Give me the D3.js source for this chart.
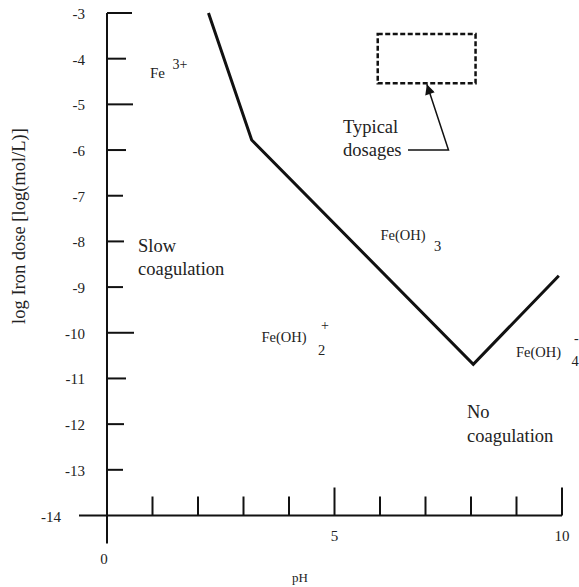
<!DOCTYPE html>
<html>
<head>
<meta charset="utf-8">
<script src="https://cdn.jsdelivr.net/npm/d3@7"></script>
<style>
  body { margin: 0; background: #fff; }
  text { font-family: "Liberation Serif", "Times New Roman", serif; fill: #222; }
</style>
</head>
<body>
<div id="chart"></div>
<script>
// data
var yTicks = [-3, -4, -5, -6, -7, -8, -9, -10, -11, -12, -13, -14];
var xTicks = [1, 2, 3, 4, 5, 6, 7, 8, 9, 10];
var xLabels = [0, 5, 10];
var boundaryPH = [2.23, 3.18, 8.05, 9.93];
var boundaryLog = [-3, -5.78, -10.69, -8.75];
var dosagePH = [5.95, 8.1];
var dosageLog = [-3.46, -4.54];

// hand drawn look: y tick lengths differ a bit
var yTickLen = [25, 19, 26, 19, 16, 17, 16, 27, 19, 17, 16];

function init() {
    var w = 579;
    var h = 587;

    var x = d3.scaleLinear().domain([0, 10]).range([107, 562]);
    var y = d3.scaleLinear().domain([-14, -3]).range([515.5, 13]);

    var svg = d3.select("#chart")
        .append("svg")
        .attr("width", w)
        .attr("height", h);

    var ink = "#111";

    // axes lines
    svg.append("line")
        .attr("x1", x(0)).attr("x2", x(0))
        .attr("y1", y(-3)).attr("y2", y(-14) + 28)
        .attr("stroke", ink).attr("stroke-width", 2);
    svg.append("line")
        .attr("x1", x(0) - 28).attr("x2", x(10))
        .attr("y1", y(-14)).attr("y2", y(-14))
        .attr("stroke", ink).attr("stroke-width", 2);

    // y ticks
    svg.selectAll(".ytick")
        .data(yTicks.slice(0, 11))
        .enter()
        .append("line")
        .attr("x1", x(0))
        .attr("x2", function (d, i) { return x(0) + yTickLen[i]; })
        .attr("y1", function (d) { return y(d); })
        .attr("y2", function (d) { return y(d); })
        .attr("stroke", ink).attr("stroke-width", 2);

    svg.selectAll(".ylab")
        .data(yTicks)
        .enter()
        .append("text")
        .text(function (d) { return d; })
        .attr("x", function (d) { return d == -14 ? x(0) - 46 : x(0) - 22; })
        .attr("y", function (d) { return y(d) + 6; })
        .attr("text-anchor", "end")
        .attr("font-size", "15px");

    // x ticks
    svg.selectAll(".xtick")
        .data(xTicks)
        .enter()
        .append("line")
        .attr("x1", function (d) { return x(d); })
        .attr("x2", function (d) { return x(d); })
        .attr("y1", y(-14))
        .attr("y2", function (d) { return y(-14) - (d % 5 == 0 ? 28 : 19); })
        .attr("stroke", ink).attr("stroke-width", 2);

    svg.selectAll(".xlab")
        .data(xLabels)
        .enter()
        .append("text")
        .text(function (d) { return d; })
        .attr("x", function (d) { return d == 0 ? x(d) - 3 : x(d); })
        .attr("y", function (d) { return d == 0 ? 564 : 541; })
        .attr("text-anchor", "middle")
        .attr("font-size", "15px");

    // axis titles
    svg.append("text")
        .text("pH")
        .attr("x", 300)
        .attr("y", 582)
        .attr("text-anchor", "middle")
        .attr("font-size", "13px");

    svg.append("text")
        .text("log Iron dose [log(mol/L)]")
        .attr("transform", "translate(25,226) rotate(-90)")
        .attr("text-anchor", "middle")
        .attr("font-size", "18.5px");

    // boundary line
    var pts = boundaryPH.map(function (p, i) { return [p, boundaryLog[i]]; });
    var line = d3.line()
        .x(function (d) { return x(d[0]); })
        .y(function (d) { return y(d[1]); });
    svg.append("path")
        .attr("d", line(pts))
        .attr("fill", "none")
        .attr("stroke", ink)
        .attr("stroke-width", 3)
        .attr("stroke-linejoin", "miter");

    // typical dosages box
    svg.append("rect")
        .attr("x", x(dosagePH[0]))
        .attr("y", y(dosageLog[0]))
        .attr("width", x(dosagePH[1]) - x(dosagePH[0]))
        .attr("height", y(dosageLog[1]) - y(dosageLog[0]))
        .attr("fill", "none")
        .attr("stroke", ink)
        .attr("stroke-width", 2.5)
        .attr("stroke-dasharray", "5,2.5");

    svg.append("defs").append("marker")
        .attr("id", "arr")
        .attr("viewBox", "0 0 10 10")
        .attr("refX", 10).attr("refY", 5)
        .attr("markerWidth", 14).attr("markerHeight", 10)
        .attr("markerUnits", "userSpaceOnUse")
        .attr("orient", "auto")
        .append("path")
        .attr("d", "M0,0 L10,5 L0,10 Z")
        .attr("fill", ink);

    var tipX = x(7.03), tipY = y(dosageLog[1]) + 1;
    svg.append("path")
        .attr("d", "M408,150 L448.5,150 L" + tipX + "," + tipY)
        .attr("fill", "none")
        .attr("stroke", ink)
        .attr("stroke-width", 1.5)
        .attr("marker-end", "url(#arr)");

    // region labels
    function label(t, px, py, size) {
        svg.append("text")
            .text(t)
            .attr("x", px)
            .attr("y", py)
            .attr("font-size", size);
    }
    label("Typical", 343, 133, "18.5px");
    label("dosages", 343, 156, "18.5px");
    label("Slow", 138, 252, "18.5px");
    label("coagulation", 138, 275, "18.5px");
    label("No", 467, 418, "18.5px");
    label("coagulation", 467, 442, "18.5px");

    label("Fe", 150, 78, "15px");
    label("3+", 172.5, 69, "14px");
    label("Fe(OH)", 380.5, 240, "14.5px");
    label("3", 434, 251, "14.5px");
    label("Fe(OH)", 261.5, 341.5, "14.5px");
    label("+", 321, 330, "14px");
    label("2", 318, 355, "14.5px");
    label("Fe(OH)", 516, 357, "14.5px");
    label("-", 574, 343, "14px");
    label("4", 571.5, 366, "14.5px");
}

window.onload = init;
</script>
</body>
</html>
